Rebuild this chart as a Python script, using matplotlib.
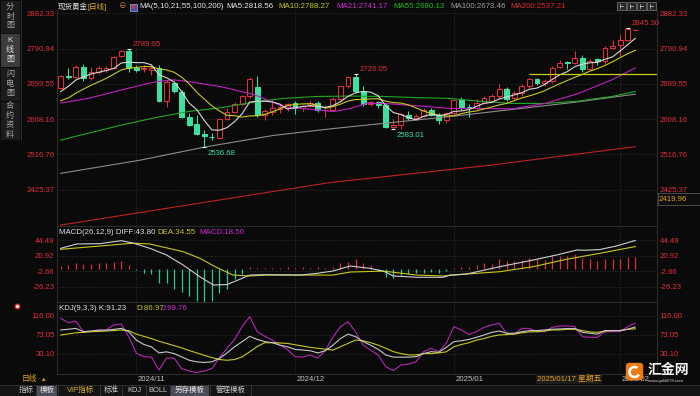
import numpy as np
import pandas as pd
import matplotlib
matplotlib.use("Agg")
import matplotlib.pyplot as plt
from matplotlib.patches import Rectangle, FancyBboxPatch, Wedge
from matplotlib.lines import Line2D

plt.rcParams['font.family'] = ['Liberation Sans', 'Noto Sans CJK SC', 'DejaVu Sans']

# ---------------- data ----------------
symbol = '现货黄金'
period = '[日线]'
month_labels = ['2024/11', '2024/12', '2025/01', '2025/02']
month_idx = [10, 31, 52, 74]
cursor_label = '2025/01/17 星期五'
cursor_idx = 63
cursor_price = '2419.96'

opens = [2690, 2720, 2717, 2744, 2714, 2730, 2736, 2740, 2772, 2786,
         2742, 2739, 2736, 2740, 2655, 2701, 2678, 2615, 2595, 2571,
         2563, 2560, 2609, 2626, 2647, 2668, 2692, 2619, 2628, 2634,
         2637, 2649, 2636, 2643, 2650, 2631, 2633, 2660, 2693, 2717,
         2680, 2648, 2652, 2646, 2587, 2592, 2620, 2612, 2617, 2633,
         2620, 2606, 2624, 2658, 2640, 2636, 2649, 2656, 2667, 2686,
         2662, 2675, 2693, 2711, 2702, 2706, 2743, 2756, 2753, 2767,
         2738, 2763, 2759, 2793, 2799, 2814, 2839.5]
highs = [2722, 2740, 2749, 2750, 2744, 2747, 2747, 2773, 2788, 2789.95,
         2748, 2748, 2748, 2748, 2710, 2707, 2683, 2623, 2619, 2580,
         2572, 2612, 2638, 2652, 2672, 2717, 2721, 2634, 2658, 2645,
         2650, 2655, 2648, 2657, 2656, 2645, 2665, 2695, 2721, 2726.05,
         2694, 2656, 2656, 2650, 2608, 2625, 2630, 2622, 2638, 2637,
         2623, 2627, 2661, 2665, 2647, 2660, 2669, 2673, 2698, 2692,
         2681, 2700, 2716, 2716, 2711, 2745, 2762, 2759, 2785, 2774,
         2765, 2767, 2797, 2813, 2830, 2845.30, 2840.5]
lows = [2686, 2712, 2714, 2708, 2710, 2726, 2731, 2738, 2770, 2731,
        2731, 2730, 2722, 2652, 2640, 2676, 2612, 2590, 2567, 2536.68,
        2554, 2558, 2607, 2623, 2645, 2664, 2615, 2605, 2620, 2624,
        2630, 2622, 2630, 2639, 2626, 2614, 2630, 2657, 2688, 2676,
        2643, 2643, 2638, 2585, 2583.01, 2584, 2606, 2608, 2614, 2617,
        2596, 2598, 2620, 2632, 2614, 2632, 2647, 2652, 2660, 2656,
        2658, 2668, 2688, 2697, 2693, 2703, 2740, 2737, 2750, 2731,
        2735, 2749, 2752, 2790, 2772, 2810, 2839]
closes = [2720, 2717, 2744, 2714, 2731, 2742, 2740, 2770, 2785, 2742,
          2736, 2740, 2742, 2655, 2705, 2681, 2615, 2593, 2570, 2564,
          2561, 2609, 2628, 2647, 2668, 2711, 2619, 2629, 2637, 2640,
          2648, 2636, 2643, 2650, 2631, 2633, 2660, 2693, 2718, 2680,
          2648, 2652, 2646, 2587, 2594, 2622, 2612, 2617, 2633, 2620,
          2606, 2624, 2658, 2640, 2636, 2649, 2664, 2668, 2686, 2661,
          2676, 2694, 2711, 2702, 2706, 2742, 2753, 2753, 2767, 2738,
          2760, 2759, 2793, 2798, 2814, 2842, 2840]
closes_before = [2643, 2622, 2608, 2630, 2657, 2649, 2662, 2674, 2693]

ma21_x = [0, 3.65, 8.06, 12.5, 14.9, 17.1, 21.3, 25.7, 29.4, 33.9, 36.1, 38.3, 40.5, 42.7, 47.1, 51.5, 55.2, 59.7, 64.1, 68.5, 72.9, 76]
ma21_y = [2650, 2662, 2684, 2705, 2710, 2705, 2692, 2671, 2641, 2632, 2628, 2636, 2649, 2649, 2643, 2636, 2636, 2635, 2649, 2675, 2710, 2741]
ma55_x = [0, 3.65, 8.06, 12.5, 16.9, 21.3, 25.7, 29.4, 33.9, 38.3, 42.7, 47.1, 51.5, 55.2, 59.7, 64.1, 68.5, 72.9, 76]
ma55_y = [2554, 2572, 2593, 2612, 2628, 2638, 2653, 2662, 2667, 2668, 2667, 2664, 2662, 2655, 2649, 2649, 2655, 2667, 2680]
ma100_x = [0, 10.5, 19.3, 28.1, 35.6, 44, 52, 60, 68, 76]
ma100_y = [2468, 2502, 2537, 2566, 2583, 2600, 2616, 2634, 2652, 2673]
ma200_x = [0, 29.4, 35.6, 56.8, 76]
ma200_y = [2334, 2425, 2444, 2489, 2537]
hline_level = 2724
hline_start = 62

extremes = [(9, 2789.95, 'high'), (39, 2726.05, 'high'), (75, 2845.30, 'high'),
            (19, 2536.68, 'low'), (44, 2583.01, 'low')]

diff_x = [0, 2.1, 5.2, 8, 9.6, 11.8, 14, 16.2, 18.4, 20.2, 22, 23.7, 25, 27.2, 31.7, 33.9, 36, 38.3, 40.9, 42.7, 44, 47.1, 50.6, 51.5, 53.7, 58.1, 62.5, 65.6, 68.3, 69.2, 71.3, 73.5, 76]
diff_y = [31.9, 38.4, 39.0, 43.5, 39.7, 31.9, 21.8, 6.6, -11.1, -23.7, -23, -15, -8.6, -8, -8.6, -6, -2.5, 5.1, 1.6, -2.7, -10, -12, -12, -8.6, -7, 4.1, 14.2, 21.8, 29.4, 28.9, 30, 35.4, 43.8]
dea_x = [0, 5.2, 9.6, 11.8, 16.2, 18.4, 20.6, 22.8, 25, 27.2, 36, 38.3, 42.7, 47.1, 50.6, 53.7, 58.1, 62.5, 66.9, 71.3, 76]
dea_y = [30.4, 35.4, 39.7, 38.4, 26.8, 16.8, 3.1, -8.6, -10, -8.6, -8.6, -4, -2.6, -8.6, -10, -7, -3.5, 4.1, 15.3, 24.3, 34.55]
macd_hist = [5.0, 6, 10, 7.5, 7.5, 9, 10, 11, 12.6, 6,
             -0.5, -5, -7.5, -20, -21, -30, -35, -41, -48, -49.5,
             -48, -36, -30, -15, -7.5, 4, 2.5, 2, 2, 2.5,
             3, 1.5, 3, 2, 3, 2, 4, 9, 11, 15,
             9, 6, -2.5, -11, -12.6, -9, -7.5, -5, -5, -4,
             -5, -2.5, 2.5, 4, 4, 6, 9, 7.5, 15, 12.6,
             12.6, 14, 17.7, 16, 14, 20, 21, 21, 22.7, 17.7,
             15, 12.6, 15, 16, 16, 19, 18.5]

kdj_k = [84.4, 86, 88, 80.5, 82, 84, 84, 85.6, 88, 80.5,
         61.6, 51.6, 46.4, 32.5, 35, 31, 23.6, 16, 12.4, 11,
         12.4, 20, 32.5, 46.4, 58, 70, 63, 58, 55.6, 50,
         46.4, 40.5, 39, 37.5, 32.5, 37.5, 50, 65, 75, 69.3,
         58, 50, 40.5, 28, 23, 23, 23, 24, 31, 35.4,
         33.8, 45, 58, 60, 63, 67.8, 73, 79, 82, 77,
         77, 80.5, 83, 83, 84.4, 86, 86.7, 87.5, 87.5, 79,
         77, 75, 83, 83, 83, 86, 91.2]
kdj_d = [73, 75.5, 78, 79, 80.5, 81, 82, 83, 84.4, 82.8,
         75, 70, 65, 59, 54, 49, 44, 38, 32.5, 27,
         22, 17.6, 16, 17.6, 23.6, 35, 47, 55.6, 55.6, 55,
         54, 51, 48, 45, 43, 41, 39, 46.4, 54, 61.6,
         60, 55.6, 50, 43, 35.4, 31, 28, 28, 31, 31,
         32.5, 35, 46.4, 51.6, 55.6, 61.6, 65, 70, 73, 74,
         75, 78, 80, 80.5, 82, 84.4, 84.4, 86, 86, 83,
         80, 79, 82, 83, 83, 86, 87.0]
kdj_j = [110.8, 100.9, 104.3, 80.5, 80.5, 84, 84, 95.7, 98, 69.3,
         31.7, 24, 23, -6, 21, 21, -3, -8.3, -12, -8,
         -3, 22, 43, 63, 91.9, 114.5, 80.5, 70, 61.5, 50,
         40.5, 24, 23, 28, 20.7, 38, 67.8, 91.9, 103, 80.5,
         50, 38.8, 28, 1.5, -7.4, 5, 7.5, 12.6, 35.4, 43,
         35.4, 54.3, 92, 84.2, 74.5, 80.5, 90.3, 95.7, 99.5, 76.8,
         74.5, 88, 88, 80.5, 80.5, 90.3, 93.4, 93.4, 92, 69.3,
         67.8, 67.8, 80.5, 80.5, 80.5, 92, 99.8]

main_ticks = [2882.33, 2790.94, 2699.55, 2608.16, 2516.76, 2425.37]
macd_ticks = [44.49, 20.92, -2.66, -26.23]
kdj_ticks = [116.00, 73.05, 30.10]

header_items = [('MA(5,10,21,55,100,200)', 139, '#e6e6e6'),
                ('MA5:2818.56', 226, '#e6e6e6'),
                ('MA10:2788.27', 278, '#c8c81e'),
                ('MA21:2741.17', 336, '#d02ad0'),
                ('MA55:2680.13', 393, '#22b822'),
                ('MA100:2673.46', 450, '#a0a0a0'),
                ('MA200:2537.21', 510, '#e02a2a')]
macd_header = [('MACD(26,12,9) DIFF:43.80', 59, '#e0e0e0'), ('DEA:34.55', 157, '#c8c81e'), ('MACD:18.50', 199, '#d02ad0')]
kdj_header = [('KDJ(9,3,3) K:91.23', 59, '#e0e0e0'), ('D:86.97', 136, '#c8c81e'), ('J:99.76', 162, '#d02ad0')]
side_tabs = [('分时图', 0, 33, False), ('K线图', 33, 67, True), ('闪电图', 67, 101, False), ('合约资料', 101, 140, False)]
toolbar_tabs = [('指标', 17, 36, False, '#c8c8c8'), ('模板', 36, 58, True, '#e8e8e8'), ('VIP指标', 62, 100, False, '#d8b040'),
                ('标准', 100, 122, False, '#c8c8c8'), ('KDJ', 122, 146, False, '#c8c8c8'), ('BOLL', 146, 170, False, '#c8c8c8'),
                ('另存模板', 170, 210, True, '#e8e8e8'), ('管理模板', 210, 251, False, '#c8c8c8')]

# ---------------- style ----------------
BG = '#0a0a0a'
EDGE = '#2c2c2c'
GRID = '#3a3a3a'
TICK_RED = '#e0303c'
UP = '#e0303c'
DOWN = '#3ee0a0'
FS = 5.6

W, H = 700, 396
def fx(x): return x / W
def fy(y): return 1 - y / H

fig = plt.figure(figsize=(7.0, 3.96), dpi=100)
fig.patch.set_facecolor(BG)

L, R = 57, 657
X0, STEP = 60.7, 7.56
xlim = ((L - X0) / STEP, (R - X0) / STEP)

def add_panel(top, bottom, ylim, ticks, labels):
    ax = fig.add_axes([fx(L), fy(bottom), (R - L) / W, (bottom - top) / H])
    ax.set_facecolor(BG)
    for s in ax.spines.values():
        s.set_color(EDGE)
        s.set_linewidth(0.8)
    ax.set_xlim(*xlim)
    ax.set_ylim(*ylim)
    ax.set_yticks(ticks, labels)
    ax.tick_params(axis='y', length=0, pad=1.8, labelsize=FS, labelcolor=TICK_RED,
                   left=False, right=False, labelleft=True, labelright=True)
    ax.set_xticks(month_idx)
    ax.tick_params(axis='x', length=0, labelbottom=False)
    ax.grid(True, color=GRID, linestyle=(0, (1, 2)), linewidth=0.6)
    ax.set_axisbelow(True)
    return ax

ax_main = add_panel(10, 226, (2331.6, 2890.9), main_ticks, [f'{t:.2f}' for t in main_ticks])
ax_main.spines['top'].set_visible(False)
ax_macd = add_panel(226, 302, (-49.4, 65.7), macd_ticks, [f'{t:.2f}' for t in macd_ticks])
ax_kdj = add_panel(302, 374, (-15.1, 147.6), kdj_ticks, [f'{t:.2f}' for t in kdj_ticks])

# ---------------- candles ----------------
o = np.array(opens); h = np.array(highs); l = np.array(lows); c = np.array(closes)
n = len(c)
idx = np.arange(n)
up = c >= o
cols = [UP if u else DOWN for u in up]
faces = [BG if u else DOWN for u in up]
ax_main.vlines(idx, l, h, colors=cols, linewidth=0.75, zorder=2)
ax_main.bar(idx, np.maximum(np.abs(c - o), 0.8), bottom=np.minimum(o, c), width=0.64,
            color=faces, edgecolor=cols, linewidth=0.75, zorder=3)

allc = pd.Series(closes_before + closes, dtype=float)
ma5 = allc.rolling(5).mean().to_numpy()[len(closes_before):]
ma10 = allc.rolling(10).mean().to_numpy()[len(closes_before):]

ax_main.plot(ma200_x, ma200_y, color='#c02222', lw=0.8, zorder=4)
ax_main.plot(ma100_x, ma100_y, color='#8c8c8c', lw=0.8, zorder=4)
ax_main.plot(ma55_x, ma55_y, color='#22a822', lw=0.8, zorder=4)
ax_main.plot(ma21_x, ma21_y, color='#c020c0', lw=0.8, zorder=4)
ax_main.plot(idx, ma10, color='#c8c81e', lw=0.8, zorder=4)
ax_main.plot(idx, ma5, color='#d8d8d8', lw=0.8, zorder=4)
ax_main.hlines(hline_level, hline_start, xlim[1] + 1, color='#c8c81e', lw=0.9, zorder=4)

for i, v, kind in extremes:
    ax_main.plot([i], [v], marker='_', ms=3, mew=0.8, color='#f0f0f0', zorder=5)
    if kind == 'high':
        ax_main.annotate(f'{v:.2f}', xy=(i, v), xytext=(2.8, 3.3), textcoords='offset points',
                         color=TICK_RED, fontsize=FS, ha='left', va='center', zorder=6)
    else:
        ax_main.annotate(f'{v:.2f}', xy=(i, v), xytext=(2.7, -4.6), textcoords='offset points',
                         color=DOWN, fontsize=FS, ha='left', va='center', zorder=6)

# ---------------- MACD ----------------
hist = np.array(macd_hist)
ax_macd.vlines(idx, 0, hist, colors=['#d8303c' if v >= 0 else '#30c888' for v in hist], linewidth=0.9, zorder=2)
ax_macd.plot(dea_x, dea_y, color='#c8c81e', lw=0.8, zorder=3)
ax_macd.plot(diff_x, diff_y, color='#cfcfcf', lw=0.8, zorder=3)

# ---------------- KDJ ----------------
ax_kdj.plot(idx, kdj_j, color='#b428b4', lw=0.8)
ax_kdj.plot(idx, kdj_d, color='#c8c81e', lw=0.8)
ax_kdj.plot(idx, kdj_k, color='#c8c8c8', lw=0.8)

# date labels
for i, lab in zip(month_idx, month_labels):
    ax_kdj.annotate(lab, xy=(i, 0), xycoords=('data', 'axes fraction'), xytext=(1.0, -3.7),
                    textcoords='offset points', color='#c0c6cc', fontsize=FS, ha='left', va='center',
                    annotation_clip=False)
ax_kdj.annotate(cursor_label, xy=(cursor_idx, 0), xycoords=('data', 'axes fraction'), xytext=(0, -3.7),
                textcoords='offset points', color='#e8a020', fontsize=FS, ha='left', va='center',
                annotation_clip=False, zorder=6,
                bbox=dict(boxstyle='square,pad=0.15', facecolor='#1c1c1c', edgecolor='none'))

# ---------------- header texts ----------------
fig.text(fx(58), fy(7), symbol, color='#e6e6e6', fontsize=5.4, va='center', ha='left')
fig.text(fx(87), fy(7), period, color='#e0b030', fontsize=5.4, va='center', ha='left')
fig.text(fx(118), fy(7), '⊖', color='#c88a3a', fontsize=5.4, va='center', ha='left')
fig.add_artist(Rectangle((fx(130), fy(10.5)), fx(6.5), 7 / H, transform=fig.transFigure,
                         facecolor='#3050c0', edgecolor='#d0d0d0', lw=0.4))
fig.add_artist(Rectangle((fx(131.5), fy(8.5)), fx(3.5), 3.5 / H, transform=fig.transFigure,
                         facecolor='#e03030', edgecolor='none'))
for txt, x, col in header_items:
    fig.text(fx(x), fy(7), txt, color=col, fontsize=5.7, va='center', ha='left')
for txt, x, col in macd_header:
    fig.text(fx(x), fy(232), txt, color=col, fontsize=5.7, va='center', ha='left')
for txt, x, col in kdj_header:
    fig.text(fx(x), fy(309), txt, color=col, fontsize=5.7, va='center', ha='left')

# top-right tool icons
for x0 in (617, 627, 637, 647):
    fig.add_artist(Rectangle((fx(x0), fy(10)), fx(8.5), 8.5 / H, transform=fig.transFigure,
                             facecolor='#262626', edgecolor='#7a7a7a', lw=0.5))
    fig.add_artist(Line2D([fx(x0 + 2.5), fx(x0 + 2.5)], [fy(8), fy(3.5)], transform=fig.transFigure,
                          color='#d0d0d0', lw=0.5))
    fig.add_artist(Line2D([fx(x0 + 2.5), fx(x0 + 6)], [fy(6), fy(6)], transform=fig.transFigure,
                          color='#d0d0d0', lw=0.5))

# right cursor price box
fig.add_artist(Rectangle((fx(657.5), fy(205)), fx(42), 11.5 / H, transform=fig.transFigure,
                         facecolor='#0e0e0e', edgecolor='#555555', lw=0.6, zorder=5))
fig.text(fx(659), fy(199.3), cursor_price, color='#e8a020', fontsize=FS, va='center', ha='left', zorder=6)

# left side tabs
for label, y0, y1, active in side_tabs:
    fig.add_artist(Rectangle((0, fy(y1)), fx(20), (y1 - y0) / H, transform=fig.transFigure,
                             facecolor='#3c3c3c' if active else '#1c1c1c', edgecolor='#0a0a0a', lw=0.6))
    nch = len(label)
    step = 9.5
    start = (y0 + y1) / 2 - step * (nch - 1) / 2
    for k, ch in enumerate(label):
        fig.text(fx(10), fy(start + k * step), ch, color='#e0e0e0' if active else '#a8a8a8',
                 fontsize=5.8, ha='center', va='center')
fig.add_artist(Line2D([fx(20.5), fx(20.5)], [fy(0), fy(140)], transform=fig.transFigure, color='#333333', lw=0.6))

# KDJ icon
fig.add_artist(Line2D([fx(17)], [fy(306)], marker='o', ms=3.2, mfc='#f0f0f0', mec='#e03030', mew=1.0,
                      transform=fig.transFigure, linestyle='none'))

# period label in date row
fig.text(fx(22), fy(379.5), '日线', color='#e0a820', fontsize=5.6, va='center', ha='left')
fig.text(fx(40.5), fy(379.5), '▲', color='#e0a820', fontsize=4, va='center', ha='left')

# bottom toolbar
fig.add_artist(Rectangle((0, 0), 1, 11 / H, transform=fig.transFigure, facecolor='#141414', edgecolor='none'))
fig.add_artist(Line2D([0, 1], [fy(385), fy(385)], transform=fig.transFigure, color='#2e2e2e', lw=0.7))
for label, x0, x1, active, col in toolbar_tabs:
    if active:
        fig.add_artist(Rectangle((fx(x0 + 1), fy(395.5)), fx(x1 - x0 - 2), 9.5 / H, transform=fig.transFigure,
                                 facecolor='#4a4c58', edgecolor='none'))
    fig.add_artist(Line2D([fx(x1), fx(x1)], [fy(386), fy(395.5)], transform=fig.transFigure, color='#3a3a3a', lw=0.6))
    fig.text(fx((x0 + x1) / 2), fy(390.5), label, color=col, fontsize=5.4, ha='center', va='center')

# logo
ax_logo = fig.add_axes([fx(625), fy(381), fx(19), 19 / H], zorder=10)
ax_logo.set_xlim(0, 19); ax_logo.set_ylim(0, 19); ax_logo.axis('off')
ax_logo.add_patch(FancyBboxPatch((0.8, 0.8), 17.4, 17.4, boxstyle='round,pad=0,rounding_size=3.5',
                                 facecolor='#f07a12', edgecolor='none'))
ax_logo.add_patch(Wedge((9.5, 9.0), 6.3, 55, 330, width=2.6, facecolor='white', edgecolor='none'))
fig.text(fx(647.5), fy(369.5), '汇金网', color='#f4f4f4', fontsize=10, fontweight='bold',
         ha='left', va='center', zorder=11)
fig.text(fx(648), fy(381), 'www.gold678.com', color='#d0d0d0', fontsize=3.2, ha='left', va='center', zorder=11)

fig.savefig('out.png', dpi=100, facecolor=fig.get_facecolor())
